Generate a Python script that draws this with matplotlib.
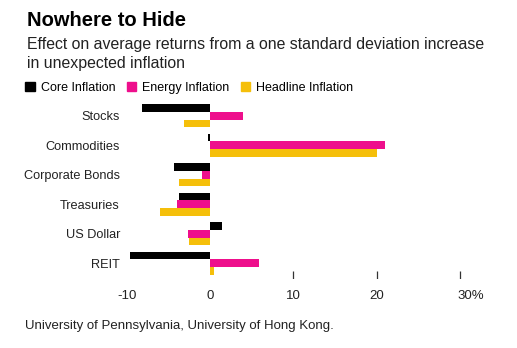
import numpy as np
import matplotlib
matplotlib.use("Agg")
import matplotlib.pyplot as plt
import matplotlib.transforms as mtransforms
from matplotlib.patches import Patch

plt.rcParams['font.family'] = ['Liberation Sans', 'DejaVu Sans']

# data (percent)
categories = ["Stocks", "Commodities", "Corporate Bonds", "Treasuries", "US Dollar", "REIT"]
core = [-8.2, -0.2, -4.3, -3.7, 1.4, -9.6]
energy = [4.0, 21.0, -1.0, -4.0, -2.6, 5.9]
headline = [-3.1, 20.0, -3.7, -6.0, -2.5, 0.5]
series_names = ["Core Inflation", "Energy Inflation", "Headline Inflation"]
colors = ["#000000", "#ee0f8c", "#f5bf0a"]
xticks = [-10, 0, 10, 20, 30]
xticklabels = ["-10", "0", "10", "20", "30%"]
marked_ticks = [10, 20, 30]

fig = plt.figure(figsize=(5.17, 3.48), dpi=100)
ax = fig.add_axes([0.2321, 0.198, 0.6897, 0.512])

y = np.arange(len(categories))
h = 0.26
for k, vals in enumerate([core, energy, headline]):
    ax.barh(y + (k - 1) * h, vals, height=h, color=colors[k], label=series_names[k])

ax.set_xlim(-10.8, 32)
ax.set_ylim(5.54, -0.5)
ax.set_yticks(y)
ax.set_yticklabels(categories, fontsize=9.2, color="#222222")
ax.tick_params(axis="y", length=0, pad=0)

ax.set_xticks(xticks)
ax.set_xticklabels(xticklabels, fontsize=9.5, color="#222222")
ax.tick_params(axis="x", length=0, pad=8)
# the "30%" label sits so that the number is centred on its tick
last = ax.get_xticklabels()[-1]
last.set_transform(last.get_transform() + mtransforms.ScaledTranslation(0.11, 0, fig.dpi_scale_trans))

# short tick marks above the labels
ax.vlines(marked_ticks, 0, 0.045, transform=ax.get_xaxis_transform(), color="#333333", lw=0.9)

for s in ax.spines.values():
    s.set_visible(False)

fig.text(27 / 517, 1 - 11 / 348, "Nowhere to Hide", fontsize=14.5, fontweight="bold", va="top")
fig.text(27 / 517, 1 - 37 / 348, "Effect on average returns from a one standard deviation increase\nin unexpected inflation",
         fontsize=11.4, va="top", color="#222222", linespacing=1.35)

handles = [Patch(color=c) for c in colors]
fig.legend(handles, series_names, loc="center left", bbox_to_anchor=(14 / 517, 1 - 88 / 348),
           ncol=3, frameon=False, fontsize=9, handlelength=0.75, handleheight=0.75,
           handletextpad=0.5, columnspacing=0.9)

fig.text(25 / 517, 1 - 326 / 348, "University of Pennsylvania, University of Hong Kong.",
         fontsize=9.5, va="center", color="#222222")

fig.savefig("out.png", dpi=100)
